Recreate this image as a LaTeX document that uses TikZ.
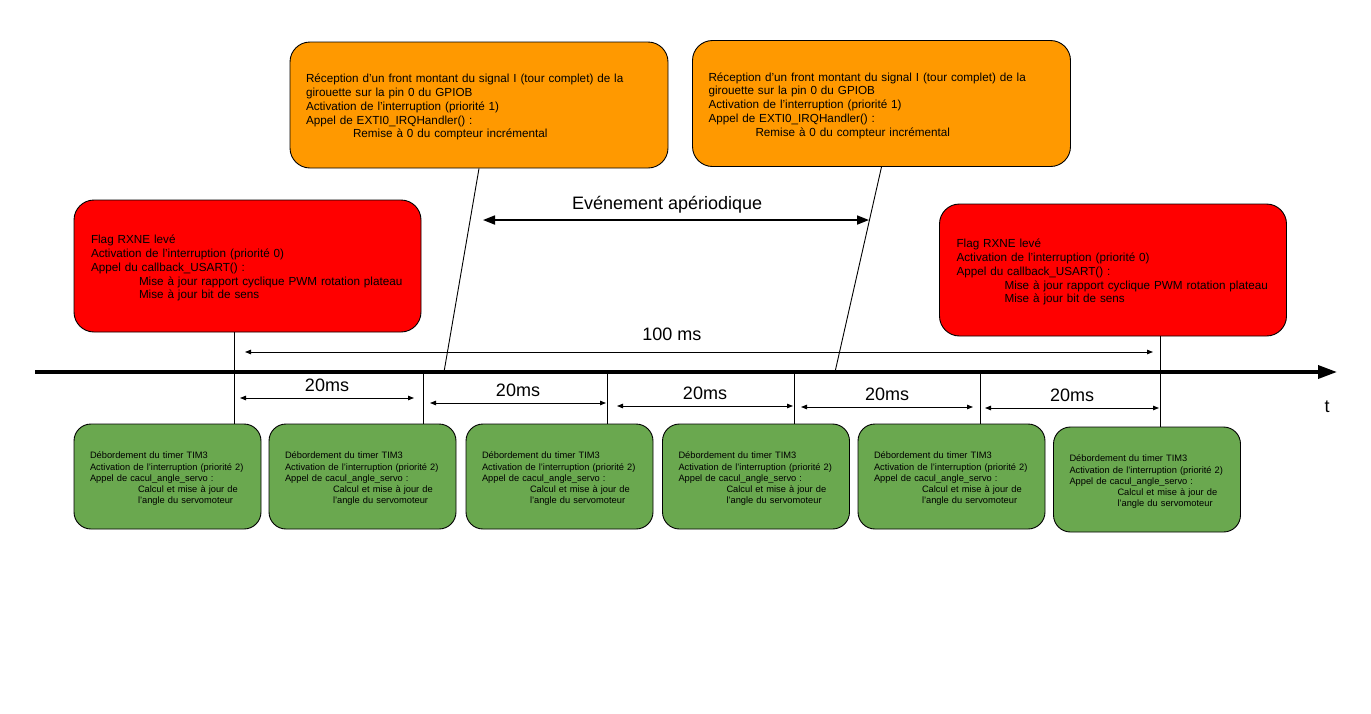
\documentclass[tikz,border=0pt]{standalone}
\usepackage{fontspec}
\setmainfont{Liberation Sans}
\usepackage{xcolor}
\usepackage{tikz}
\usetikzlibrary{arrows.meta}

\definecolor{extiorange}{HTML}{FF9900}
\definecolor{usartred}{HTML}{FF0000}
\definecolor{timgreen}{HTML}{6AA84F}

\newcommand{\extitext}{\begin{tabular}{@{}l@{}}\noalign{\vskip5pt}
Réception d’un front montant du signal I (tour complet) de la\\
girouette sur la pin 0 du GPIOB\\
Activation de l’interruption (priorité 1)\\
Appel de EXTI0\_IRQHandler() :\\
\hspace*{47pt}Remise à 0 du compteur incrémental
\end{tabular}}

\newcommand{\usarttext}{\begin{tabular}{@{}l@{}}\noalign{\vskip5pt}
Flag RXNE levé\\
Activation de l’interruption (priorité 0)\\
Appel du callback\_USART() :\\
\hspace*{48pt}Mise à jour rapport cyclique PWM rotation plateau\\
\hspace*{48pt}Mise à jour bit de sens
\end{tabular}}

\newcommand{\timtext}{\begin{tabular}{@{}l@{}}\noalign{\vskip5pt}
Débordement du timer TIM3\\
Activation de l’interruption (priorité 2)\\
Appel de cacul\_angle\_servo :\\
\hspace*{48pt}Calcul et mise à jour de\\
\hspace*{48pt}l’angle du servomoteur
\end{tabular}}

\begin{document}
\begin{tikzpicture}
        [x=1pt,y=-1pt,
        exti/.style={rectangle,rounded corners=20pt,draw=black,line width=0.9pt,fill=extiorange,minimum width=378pt,minimum height=126pt,inner xsep=16pt,text width=346pt,align=left,font=\fontsize{11.7}{13.8}\selectfont},
        usart/.style={rectangle,rounded corners=20pt,draw=black,line width=0.9pt,fill=usartred,minimum width=347pt,minimum height=132pt,inner xsep=17pt,text width=313pt,align=left,font=\fontsize{11.7}{13.8}\selectfont},
        tim/.style={rectangle,rounded corners=17pt,draw=black,line width=0.9pt,fill=timgreen,minimum width=187pt,minimum height=105pt,inner xsep=16pt,text width=155pt,align=left,font=\fontsize{9.3}{11.2}\selectfont},
        timeline/.style={-{Triangle[length=19pt,width=13pt]},line width=3.5pt},
        tick/.style={-,line width=0.9pt},
        period/.style={{Triangle[length=6pt,width=4.5pt]}-{Triangle[length=6pt,width=4.5pt]},line width=0.9pt},
        event/.style={{Triangle[length=12pt,width=9pt]}-{Triangle[length=12pt,width=9pt]},line width=1.7pt},
        lbl/.style={font=\fontsize{18}{20}\selectfont,inner sep=0pt,anchor=base}]

\useasboundingbox (0,0) rectangle (1371,713);

\begin{scope}

% interrupts
\node[exti] at (479,105) (exti_a) {\extitext};

\node[exti] at (881.5,103.5) (exti_b) {\extitext};

\node[usart] at (247.5,266) (usart_a) {\usarttext};

\node[usart] at (1113,270) (usart_b) {\usarttext};

\node[tim] at (167.5,476.5) (tim_a) {\timtext};
\node[tim] at (362.5,476.5) (tim_b) {\timtext};
\node[tim] at (559.5,476.5) (tim_c) {\timtext};
\node[tim] at (756,476.5) (tim_d) {\timtext};
\node[tim] at (951.5,476.5) (tim_e) {\timtext};
\node[tim] at (1147,479.5) (tim_f) {\timtext};

% time axis
\coordinate (t_start) at (35,372);
\coordinate (t_end) at (1337,372);
\coordinate (tick0) at (234,372);
\coordinate (tick1) at (423,372);
\coordinate (tick2) at (607,372);
\coordinate (tick3) at (794,372);
\coordinate (tick4) at (980,372);
\coordinate (tick5) at (1160,372);
\coordinate (edge_a) at (444,372);
\coordinate (edge_b) at (835,372);

\node[lbl] at (1327,412) (t_lbl) {t};

\draw[timeline] (t_start) -- (t_end);

%ticks
\draw[tick] (usart_a.south -| tick0) -- (tim_a.north -| tick0);
\draw[tick] (tick1) -- (tim_b.north -| tick1);
\draw[tick] (tick2) -- (tim_c.north -| tick2);
\draw[tick] (tick3) -- (tim_d.north -| tick3);
\draw[tick] (tick4) -- (tim_e.north -| tick4);
\draw[tick] (usart_b.south -| tick5) -- (tim_f.north -| tick5);
\draw[tick] (exti_a.south) -- (edge_a);
\draw[tick] (exti_b.south) -- (edge_b);

%arrows
\coordinate (per_a1) at (240,398);
\coordinate (per_a2) at (414,398);
\coordinate (per_b1) at (430,403);
\coordinate (per_b2) at (606,403);
\coordinate (per_c1) at (617,406);
\coordinate (per_c2) at (793,406);
\coordinate (per_d1) at (801,407);
\coordinate (per_d2) at (973,407);
\coordinate (per_e1) at (985,408);
\coordinate (per_e2) at (1159,408);
\coordinate (full_1) at (245,352);
\coordinate (full_2) at (1153,352);
\coordinate (event_1) at (483,220);
\coordinate (event_2) at (869,220);

\draw[period] (per_a1) -- node [lbl,pos=.5,yshift=6.5pt] (lbl_a) {20ms} (per_a2);
\draw[period] (per_b1) -- node [lbl,pos=.5,yshift=6.5pt] (lbl_b) {20ms} (per_b2);
\draw[period] (per_c1) -- node [lbl,pos=.5,yshift=6.5pt] (lbl_c) {20ms} (per_c2);
\draw[period] (per_d1) -- node [lbl,pos=.5,yshift=6.5pt] (lbl_d) {20ms} (per_d2);
\draw[period] (per_e1) -- node [lbl,pos=.5,yshift=6.5pt] (lbl_e) {20ms} (per_e2);
\draw[period] (full_1) -- node [lbl,pos=.47,yshift=11.5pt] (lbl_full) {100 ms} (full_2);
\draw[event] (event_1) -- node [lbl,pos=.477,yshift=10.5pt] (lbl_event) {Evénement apériodique} (event_2);

\end{scope}

\end{tikzpicture}
\end{document}
